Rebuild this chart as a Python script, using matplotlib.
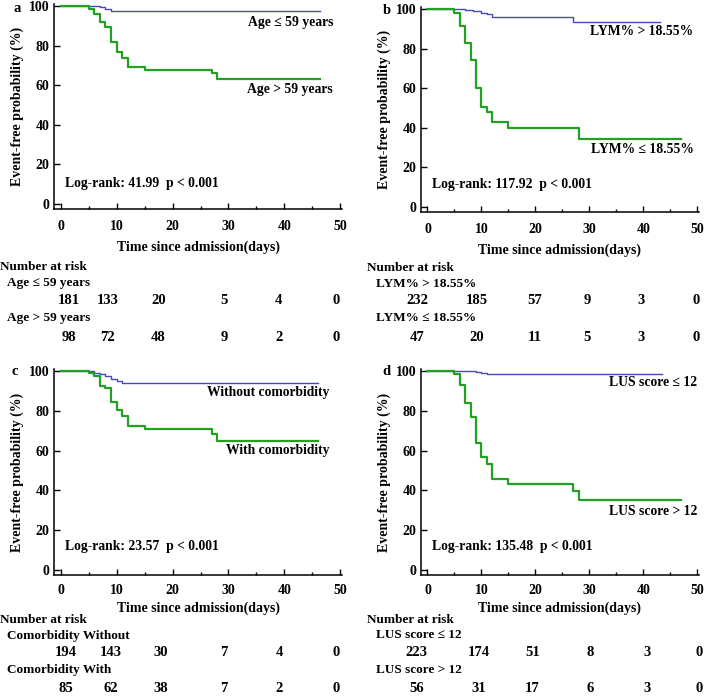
import numpy as np
import matplotlib
matplotlib.use("Agg")
import matplotlib.pyplot as plt
import matplotlib.transforms as mtransforms

plt.rcParams['font.family'] = ['Liberation Serif', 'DejaVu Serif']
plt.rcParams['font.weight'] = 'bold'
plt.rcParams['axes.labelweight'] = 'bold'
plt.rcParams['font.size'] = 9.5

W, H = 708, 698
BLUE = '#4848b8'
GREEN = '#22a022'

# panel a: age
a_low_t = [0, 7, 8, 9, 46.3]
a_low_s = [100, 99.5, 98.7, 97.5, 97.5]
a_high_t = [0, 5, 6, 7, 8, 9, 10, 11, 12, 15, 27, 28, 46.3]
a_high_s = [100, 98.5, 95.8, 91.8, 89.6, 82, 77, 73.6, 69.2, 67.9, 66.3, 63.3, 63.3]
a_risk1 = [181, 133, 20, 5, 4, 0]
a_risk2 = [98, 72, 48, 9, 2, 0]

# panel b: LYM%
b_high_t = [0, 5, 7, 8.5, 10, 11, 12, 27, 43]
b_high_s = [100, 99.8, 99.5, 99.0, 98.2, 97.3, 96.1, 93.4, 93.4]
b_low_t = [0, 5, 6, 7, 8, 9, 10, 11, 12, 15, 28, 47]
b_low_s = [100, 97.8, 91.6, 83, 74, 60, 50.4, 47.9, 43, 39.8, 34.3, 34.3]
b_risk1 = [232, 185, 57, 9, 3, 0]
b_risk2 = [47, 20, 11, 5, 3, 0]

# panel c: comorbidity
c_wo_t = [0, 6, 7, 8, 9, 10, 11, 46]
c_wo_s = [100, 99.2, 98.6, 97.4, 96.1, 95.0, 93.8, 93.8]
c_w_t = [0, 5, 6, 7, 8, 9, 10, 11, 12, 15, 27, 28, 46]
c_w_s = [100, 98.8, 97.5, 92.7, 91.5, 84.3, 80.2, 77.5, 72.3, 70.7, 68.2, 64.7, 64.7]
c_risk1 = [194, 143, 30, 7, 4, 0]
c_risk2 = [85, 62, 38, 7, 2, 0]

# panel d: LUS score
d_low_t = [0, 9, 10, 11, 43.5]
d_low_s = [100, 99.6, 99.0, 98.5, 98.5]
d_high_t = [0, 5, 6, 7, 8, 9, 10, 11, 12, 15, 27, 28, 47]
d_high_s = [100, 98.5, 93, 83.8, 76.7, 63.8, 56.7, 53.3, 45.5, 43.2, 39.8, 35.3, 35.3]
d_risk1 = [223, 174, 51, 8, 3, 0]
d_risk2 = [56, 31, 17, 6, 3, 0]

panels = [
    dict(letter='a', box=(54, 4, 342, 209), letter_xy=(13, 8), pads=(8, 5),
         blue=(a_low_t, a_low_s), green=(a_high_t, a_high_s),
         lab1='Age \u2264 59 years', lab2='Age > 59 years',
         lab1_xy=(48.7, 91.5), lab2_xy=(48.7, 58),
         logrank='Log-rank: 41.99  p < 0.001', lr_xy=(0.7, 10.6),
         tab_x=(0, 7), tab_y=(267, 283, 300, 318, 338),
         risk_x=[1.4, 8.4, 17.5, 29.2, 39.0, 49.2],
         risk=(a_risk1, a_risk2), rlab=('Age \u2264 59 years', 'Age > 59 years')),
    dict(letter='b', box=(421, 7, 699, 212), letter_xy=(383, 10), pads=(8, 5),
         blue=(b_high_t, b_high_s), green=(b_low_t, b_low_s),
         lab1='LYM% > 18.55%', lab2='LYM% \u2264 18.55%',
         lab1_xy=(49.3, 88.4), lab2_xy=(49.3, 29.3),
         logrank='Log-rank: 117.92  p < 0.001', lr_xy=(0.9, 11.6),
         tab_x=(367, 376), tab_y=(268, 284, 301, 318, 338),
         risk_x=[-1.9, 9.1, 19.8, 29.6, 39.6, 49.8],
         risk=(b_risk1, b_risk2), rlab=('LYM% > 18.55%', 'LYM% \u2264 18.55%')),
    dict(letter='c', box=(54, 369, 342, 575), letter_xy=(12, 371), pads=(6.5, 3),
         blue=(c_wo_t, c_wo_s), green=(c_w_t, c_w_s),
         lab1='Without comorbidity', lab2='With comorbidity',
         lab1_xy=(48.1, 89), lab2_xy=(48.1, 60),
         logrank='Log-rank: 23.57  p < 0.001', lr_xy=(0.7, 12),
         tab_x=(0, 7), tab_y=(620, 636, 653, 670, 688),
         risk_x=[0.9, 8.9, 17.9, 29.2, 39.1, 49.2],
         risk=(c_risk1, c_risk2), rlab=('Comorbidity Without', 'Comorbidity With')),
    dict(letter='d', box=(421, 369, 699, 575), letter_xy=(382, 371), pads=(6.5, 3),
         blue=(d_low_t, d_low_s), green=(d_high_t, d_high_s),
         lab1='LUS score \u2264 12', lab2='LUS score > 12',
         lab1_xy=(50.0, 94), lab2_xy=(50.0, 29.6),
         logrank='Log-rank: 135.48  p < 0.001', lr_xy=(0.8, 11.6),
         tab_x=(367, 376), tab_y=(620, 635, 653, 670, 688),
         risk_x=[-2.0, 9.5, 19.4, 30.2, 40.6, 50.4],
         risk=(d_risk1, d_risk2), rlab=('LUS score \u2264 12', 'LUS score > 12')),
]

fig = plt.figure(figsize=(W / 100, H / 100), dpi=100)

for p in panels:
    l, t, r, b = p['box']
    ax = fig.add_axes([l / W, 1 - b / H, (r - l) / W, (b - t) / H])
    ax.step(p['blue'][0], p['blue'][1], where='post', color=BLUE, lw=1.0)
    ax.step(p['green'][0], p['green'][1], where='post', color=GREEN, lw=1.6)
    ax.set_xlim(-1.2, 50.3)
    ax.set_ylim(-2.5, 101)
    ax.set_xticks([0, 10, 20, 30, 40, 50])
    ax.set_xticks([5, 15, 25, 35, 45], minor=True)
    ax.set_yticks([0, 20, 40, 60, 80, 100])
    ax.tick_params(axis='both', which='major', direction='in', length=4, width=1,
                   labelsize=10)
    ax.tick_params(axis='x', which='major', pad=p['pads'][0])
    ax.tick_params(axis='x', which='minor', direction='in', length=2, width=1)
    for lbl in ax.get_xticklabels() + ax.get_yticklabels():
        lbl.set_fontweight('bold')
    for s in ['top', 'right']:
        ax.spines[s].set_visible(False)
    for s in ['left', 'bottom']:
        ax.spines[s].set_linewidth(1.1)
    ax.set_xlabel('Time since admission(days)', labelpad=p['pads'][1], fontsize=10)
    ax.set_ylabel('Event-free probability (%)', labelpad=3, fontsize=10)

    ax.text(p['lab1_xy'][0], p['lab1_xy'][1], p['lab1'], ha='right', va='center', fontsize=9.8)
    ax.text(p['lab2_xy'][0], p['lab2_xy'][1], p['lab2'], ha='right', va='center', fontsize=9.8)
    ax.text(p['lr_xy'][0], p['lr_xy'][1], p['logrank'], ha='left', va='center', fontsize=9.8)

    fig.text(p['letter_xy'][0] / W, 1 - p['letter_xy'][1] / H, p['letter'],
             ha='left', va='center', fontsize=10.5)

    ty = p['tab_y']
    fig.text(p['tab_x'][0] / W, 1 - ty[0] / H, 'Number at risk', ha='left', va='center')
    fig.text(p['tab_x'][1] / W, 1 - ty[1] / H, p['rlab'][0], ha='left', va='center')
    fig.text(p['tab_x'][1] / W, 1 - ty[3] / H, p['rlab'][1], ha='left', va='center')
    trans = mtransforms.blended_transform_factory(ax.transData, fig.transFigure)
    for xx, n1, n2 in zip(p['risk_x'], p['risk'][0], p['risk'][1]):
        ax.text(xx, 1 - ty[2] / H, str(n1), transform=trans, ha='center', va='center',
                fontsize=10.5, clip_on=False)
        ax.text(xx, 1 - ty[4] / H, str(n2), transform=trans, ha='center', va='center',
                fontsize=10.5, clip_on=False)

fig.savefig('out.png', dpi=100)
